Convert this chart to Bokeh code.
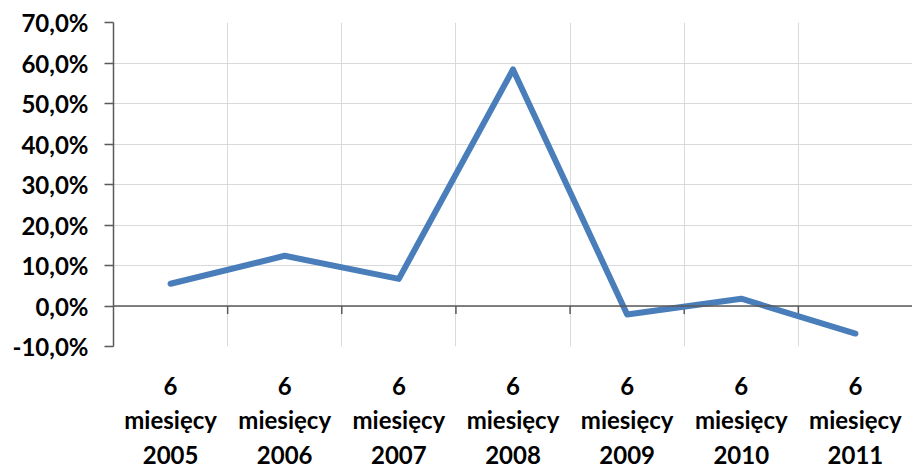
import numpy as np
from bokeh.plotting import figure
from bokeh.models import Range1d, FixedTicker, Span
from bokeh.embed import file_html
from bokeh.resources import INLINE

categories = ["6\nmiesięcy\n2005", "6\nmiesięcy\n2006", "6\nmiesięcy\n2007",
              "6\nmiesięcy\n2008", "6\nmiesięcy\n2009", "6\nmiesięcy\n2010",
              "6\nmiesięcy\n2011"]
values = [5.5, 12.4, 6.7, 58.4, -2.1, 1.8, -6.8]
y_ticks = [-10, 0, 10, 20, 30, 40, 50, 60, 70]
y_tick_labels = ["-10,0%", "0,0%", "10,0%", "20,0%", "30,0%", "40,0%", "50,0%", "60,0%", "70,0%"]

n = len(categories)
x = np.arange(n) + 0.5
bounds = list(np.arange(1, n))

FONT = "Lato"
p = figure(width=912, height=472, output_backend="svg", toolbar_location=None,
           x_range=Range1d(0, n), y_range=Range1d(y_ticks[0], y_ticks[-1]),
           min_border_left=113, min_border_right=0, min_border_top=22, min_border_bottom=126)
p.outline_line_color = None
p.background_fill_color = "white"
p.border_fill_color = "white"

# grids
p.xgrid.ticker = FixedTicker(ticks=bounds + [n])
p.xgrid.grid_line_color = "#d9d9d9"
p.xgrid.grid_line_width = 1
p.ygrid.ticker = FixedTicker(ticks=y_ticks)
p.ygrid.grid_line_color = "#d9d9d9"
p.ygrid.grid_line_width = 1

# y axis
ya = p.yaxis[0]
ya.ticker = FixedTicker(ticks=y_ticks)
ya.major_label_overrides = {t: l for t, l in zip(y_ticks, y_tick_labels)}
ya.axis_line_color = "#5a5a5a"
ya.axis_line_width = 1.5
ya.major_tick_line_color = "#5a5a5a"
ya.major_tick_line_width = 1.5
ya.major_tick_out = 9
ya.major_tick_in = 0
ya.minor_tick_line_color = None
ya.major_label_standoff = 16
ya.major_label_text_font = FONT
ya.major_label_text_font_style = "bold"
ya.major_label_text_font_size = "24px"
ya.major_label_text_color = "black"

# x axis
xa = p.xaxis[0]
xa.ticker = FixedTicker(ticks=list(x))
xa.major_label_overrides = {float(v): c for v, c in zip(x, categories)}
xa.axis_line_color = None
xa.major_tick_line_color = None
xa.minor_tick_line_color = None
xa.major_tick_out = 0
xa.major_tick_in = 0
xa.major_label_standoff = 24
xa.major_label_text_font = FONT
xa.major_label_text_font_style = "bold"
xa.major_label_text_font_size = "24px"
xa.major_label_text_color = "black"
xa.major_label_text_line_height = 1.2

# zero line with ticks
p.add_layout(Span(location=0, dimension="width", line_color="#5a5a5a", line_width=1.5))
p.segment(x0=bounds, y0=[0] * len(bounds), x1=bounds, y1=[-2.0] * len(bounds),
          line_color="#5a5a5a", line_width=1.5)

p.line(x, values, line_width=6, line_color="#4a7ebb", line_cap="round", line_join="round")

open("out.html", "w").write(file_html(p, INLINE))
